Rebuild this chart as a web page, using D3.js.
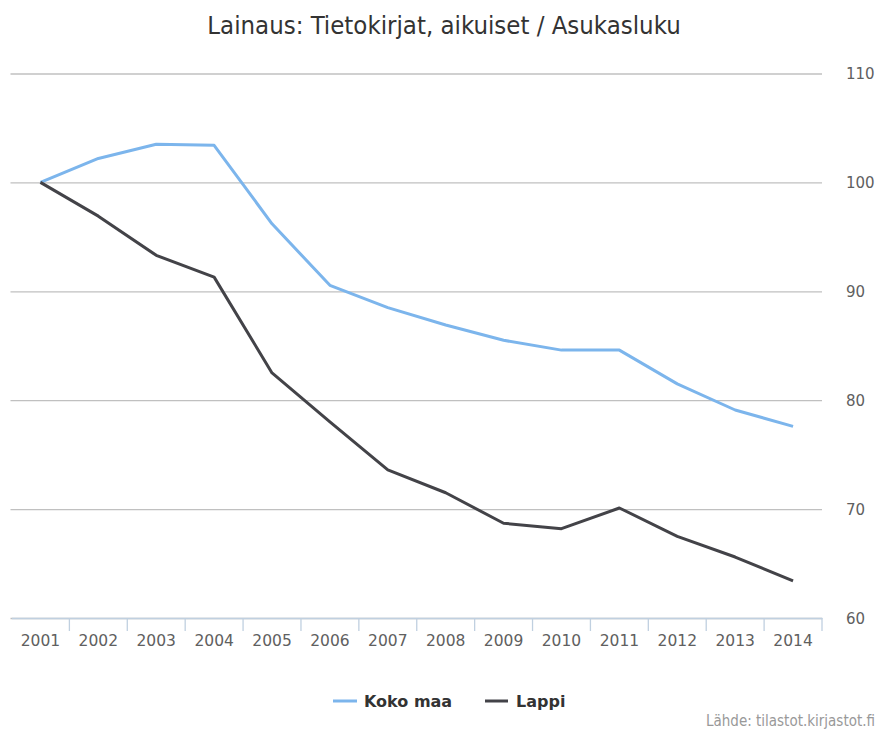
<!DOCTYPE html>
<html><head><meta charset="utf-8">
<script src="https://cdn.jsdelivr.net/npm/d3@7"></script>
<style>body{margin:0;background:#fff}svg{display:block}</style>
</head><body>
<svg id="chart" width="877" height="729"></svg>
<script>
const categories = ["2001","2002","2003","2004","2005","2006","2007","2008","2009","2010","2011","2012","2013","2014"];
const kokoMaa = [100, 102.2, 103.5, 103.4, 96.2, 90.55, 88.5, 86.9, 85.5, 84.6, 84.6, 81.5, 79.1, 77.6];
const lappi = [100, 96.9, 93.3, 91.3, 82.5, 78.0, 73.6, 71.5, 68.7, 68.2, 70.1, 67.5, 65.6, 63.4];
const yTicks = [60, 70, 80, 90, 100, 110];
const seriesNames = ["Koko maa", "Lappi"];
const colors = ["#7cb5ec", "#434348"];

const svg = d3.select("#chart");
const plotLeft = 11.5, plotRight = 822, plotTop = 73.5, plotBottom = 618;

const x = d3.scaleBand().domain(categories).range([plotLeft, plotRight]);
const y = d3.scaleLinear().domain([60, 110]).range([plotBottom, plotTop]);

// title
svg.append("text").attr("x", 444).attr("y", 34).attr("text-anchor", "middle")
  .attr("font-family", "DejaVu Sans Condensed, DejaVu Sans").attr("font-size", 25.5)
  .attr("fill", "#333333").text("Lainaus: Tietokirjat, aikuiset / Asukasluku");

// grid
const yAxis = d3.axisRight(y).tickValues(yTicks).tickSize(-(plotRight - plotLeft + 1)).tickPadding(24);
const gy = svg.append("g").attr("transform", `translate(${plotRight},0)`).call(yAxis);
gy.select(".domain").remove();
gy.selectAll(".tick line").attr("stroke", "#c0c0c0").attr("stroke-width", 1.3);
gy.selectAll(".tick text").attr("font-family", "DejaVu Sans").attr("font-size", 15)
  .attr("fill", "#606060").attr("dy", "0.35em");

// x axis
const xAxis = d3.axisBottom(x).tickSize(0).tickPadding(22);
const gx = svg.append("g").attr("transform", `translate(0,${plotBottom})`).call(xAxis);
gx.select(".domain").attr("stroke", "#c0d0e0").attr("stroke-width", 1.3);
gx.selectAll(".tick text").attr("font-family", "DejaVu Sans").attr("font-size", 15.5)
  .attr("fill", "#606060").attr("dy", "0.35em").attr("y", 23);
gx.selectAll(".tickmark").data(categories.slice(1).concat(["end"])).enter().append("line")
  .attr("x1", (d, i) => plotLeft + (i + 1) * x.bandwidth())
  .attr("x2", (d, i) => plotLeft + (i + 1) * x.bandwidth())
  .attr("y1", 0).attr("y2", 13).attr("stroke", "#c0d0e0").attr("stroke-width", 1.3);

// lines
const line = d3.line().x((d, i) => x(categories[i]) + x.bandwidth() / 2).y(d => y(d));
[kokoMaa, lappi].forEach((s, k) => {
  svg.append("path").datum(s).attr("d", line).attr("fill", "none")
    .attr("stroke", colors[k]).attr("stroke-width", 3).attr("stroke-linejoin", "round");
});

// legend
const legendItems = [{x: 333, w: 24, tx: 364}, {x: 485, w: 23, tx: 516}];
legendItems.forEach((it, k) => {
  svg.append("line").attr("x1", it.x).attr("x2", it.x + it.w).attr("y1", 701).attr("y2", 701)
    .attr("stroke", colors[k]).attr("stroke-width", 3);
  svg.append("text").attr("x", it.tx).attr("y", 707).attr("font-family", "DejaVu Sans")
    .attr("font-weight", "bold").attr("font-size", 16).attr("fill", "#333333").text(seriesNames[k]);
});

// credits
svg.append("text").attr("x", 875).attr("y", 726).attr("text-anchor", "end")
  .attr("font-family", "DejaVu Sans Condensed, DejaVu Sans").attr("font-size", 15)
  .attr("fill", "#999999").text("Lähde: tilastot.kirjastot.fi");
</script>
</body></html>
